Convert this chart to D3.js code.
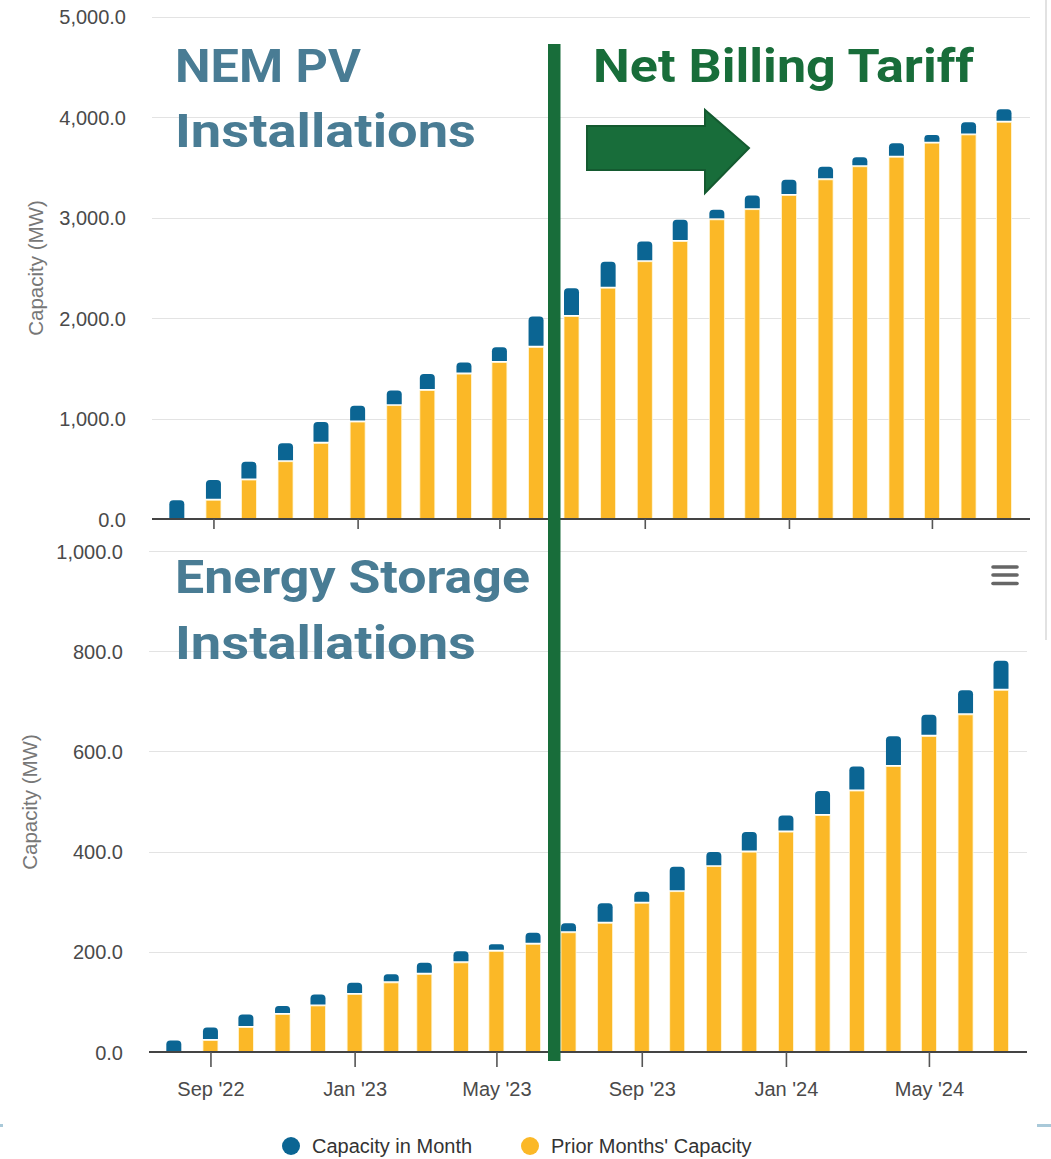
<!DOCTYPE html>
<html><head><meta charset="utf-8">
<script src="https://cdnjs.cloudflare.com/ajax/libs/d3/7.8.5/d3.min.js"></script>
<style>
html,body{margin:0;padding:0;background:#fff;}
svg{display:block;}
</style></head>
<body>
<svg id="c" width="1051" height="1159"></svg>
<script>
// ---------- data ----------
const months = ["2022-08-01","2022-09-01","2022-10-01","2022-11-01","2022-12-01",
  "2023-01-01","2023-02-01","2023-03-01","2023-04-01","2023-05-01","2023-06-01","2023-07-01",
  "2023-08-01","2023-09-01","2023-10-01","2023-11-01","2023-12-01",
  "2024-01-01","2024-02-01","2024-03-01","2024-04-01","2024-05-01","2024-06-01","2024-07-01"];
const pvMonth = [187,201,182,183,212,163,150,164,116,150,307,282,263,202,215,101,142,155,130,95,140,82,126,129];
const pvPrior = [0,187,388,570,753,965,1128,1278,1442,1558,1708,2015,2297,2560,2762,2977,3078,3220,3375,3505,3600,3740,3822,3948];
const esMonth = [23,26,26,17,23,23,17,23,23,14,23,19,40,23,50,29,40,33,49,49,60,43,49,59];
const esPrior = [0,23,49,75,92,115,138,155,178,201,215,238,257,297,320,370,399,439,472,521,570,630,673,722];
const xTickDates = ["2022-09-01","2023-01-01","2023-05-01","2023-09-01","2024-01-01","2024-05-01"];
const xTickLabels = ["Sep '22","Jan '23","May '23","Sep '23","Jan '24","May '24"];
const pvTicks = [0,1000,2000,3000,4000,5000];
const esTicks = [0,200,400,600,800,1000];
const seriesNames = ["Capacity in Month","Prior Months' Capacity"];
const colors = {month:"#0b6593", prior:"#fbb827"};

const parse = d3.utcParse("%Y-%m-%d");
const svg = d3.select("#c");
const sans = "'Liberation Sans', Arial, sans-serif";

function panel(opts){
  const g = svg.append("g").attr("transform",`translate(${opts.dx},0)`);
  const x = d3.scaleUtc().domain([parse("2022-07-11"), parse("2024-07-23")]).range([149,1027]);
  const y = d3.scaleLinear().domain([0, opts.max]).range([opts.y0, opts.y1]);
  // grid
  g.append("g").selectAll("line").data(opts.ticks.slice(1)).join("line")
    .attr("x1",149).attr("x2",1027).attr("y1",d=>Math.round(y(d))+0.5).attr("y2",d=>Math.round(y(d))+0.5)
    .attr("stroke","#e3e3e3").attr("stroke-width",1.2);
  // y labels
  const ya = d3.axisLeft(y).tickValues(opts.ticks).tickFormat(d3.format(",.1f")).tickSize(0).tickPadding(0);
  const yg = g.append("g").attr("transform",`translate(${opts.labelX},0)`).call(ya);
  yg.select(".domain").remove();
  yg.selectAll("text").attr("font-family",sans).attr("font-size",20)
    .attr("fill","#4a4a4a").attr("dy","0.35em");
  // axis title
  g.append("text").attr("transform",`translate(${opts.titleX},${opts.titleY}) rotate(-90)`)
    .attr("text-anchor","middle").attr("font-family",sans)
    .attr("font-size",20.5).attr("fill","#777").text("Capacity (MW)");
  // bars
  const bw = 15, r = 4;
  const dates = months.map(parse);
  g.append("g").selectAll("rect").data(dates).join("rect")
    .attr("x",(d)=>x(d)-bw/2).attr("width",bw)
    .attr("y",(d,i)=>y(opts.prior[i])).attr("height",(d,i)=>y(0)-y(opts.prior[i]))
    .attr("fill",colors.prior).attr("stroke","#fff8dc").attr("stroke-width",0.8);
  g.append("g").selectAll("path").data(dates).join("path")
    .attr("d",(d,i)=>{
      const x0 = x(d)-bw/2, x1 = x(d)+bw/2;
      const yb = y(opts.prior[i]) - (opts.prior[i]>0?1.5:0);
      const yt = y(opts.prior[i]+opts.month[i]);
      const rr = Math.min(r, (yb-yt)/2);
      return `M${x0},${yb}L${x0},${yt+rr}Q${x0},${yt} ${x0+rr},${yt}L${x1-rr},${yt}Q${x1},${yt} ${x1},${yt+rr}L${x1},${yb}Z`;
    })
    .attr("fill",colors.month);
  // x axis
  const xa = d3.axisBottom(x).tickValues(xTickDates.map(parse)).tickSize(opts.tickLen)
    .tickFormat((d,i)=> opts.labels ? xTickLabels[i] : "").tickPadding(15);
  const xg = g.append("g").attr("transform",`translate(0,${opts.y0})`).call(xa);
  xg.select(".domain").attr("d",`M149,0H1027`).attr("stroke","#444").attr("stroke-width",2);
  xg.selectAll(".tick line").attr("stroke","#555").attr("stroke-width",1.6);
  xg.selectAll("text").attr("font-family",sans).attr("font-size",20)
    .attr("fill","#4a4a4a");
}

panel({dx:3, max:5000, y0:519, y1:16.5, ticks:pvTicks, month:pvMonth, prior:pvPrior,
  labelX:123, titleX:40, titleY:268, tickLen:10, labels:false});
panel({dx:0, max:1000, y0:1052, y1:551, ticks:esTicks, month:esMonth, prior:esPrior,
  labelX:123, titleX:37, titleY:802, tickLen:15, labels:true});

// right frame line & stray marks
svg.append("line").attr("x1",1046).attr("x2",1046).attr("y1",0).attr("y2",640).attr("stroke","#d9d9d9").attr("stroke-width",1.5);
svg.append("rect").attr("x",1037).attr("y",1124).attr("width",14).attr("height",3).attr("fill","#a9c9d9");
svg.append("rect").attr("x",0).attr("y",1124).attr("width",3).attr("height",3).attr("fill","#a9c9d9");

// hamburger menu
svg.append("g").selectAll("line").data([567,575,583.5]).join("line")
  .attr("x1",993).attr("x2",1017).attr("y1",d=>d).attr("y2",d=>d)
  .attr("stroke","#666").attr("stroke-width",3.6).attr("stroke-linecap","round");

// legend
const leg = svg.append("g").attr("font-family",sans).attr("font-size",20).attr("fill","#333");
const legX = [291, 530];
[colors.month, colors.prior].forEach((c,i)=>{
  leg.append("circle").attr("cx",legX[i]).attr("cy",1146).attr("r",9).attr("fill",c);
  leg.append("text").attr("x",legX[i]+21).attr("y",1153).text(seriesNames[i]);
});

// annotations
const green = "#186d3a", steel = "#497c94";
svg.append("rect").attr("x",548).attr("y",44).attr("width",12.5).attr("height",1017).attr("fill",green);
svg.append("path").attr("d","M587,126L705,126L705,110L749,148L705,193L705,170L587,170Z")
  .attr("fill",green).attr("stroke","#145a30").attr("stroke-width",2);

function fitText(txt, x, base, w, color){
  const t = svg.append("text").attr("x",x).attr("y",base).attr("font-family","Roboto, 'Open Sans', sans-serif")
    .attr("font-weight",700).attr("font-size",47).attr("fill",color)
    .style("font-variant-ligatures","none").text(txt);
  t.attr("textLength", w).attr("lengthAdjust","spacingAndGlyphs");
}
fitText("NEM PV",175,82,186,steel);
fitText("Installations",175,147,301,steel);
fitText("Net Billing Tariff",593,82,381,green);
fitText("Energy Storage",175,593,355,steel);
fitText("Installations",175,659,301,steel);
</script>
</body></html>
